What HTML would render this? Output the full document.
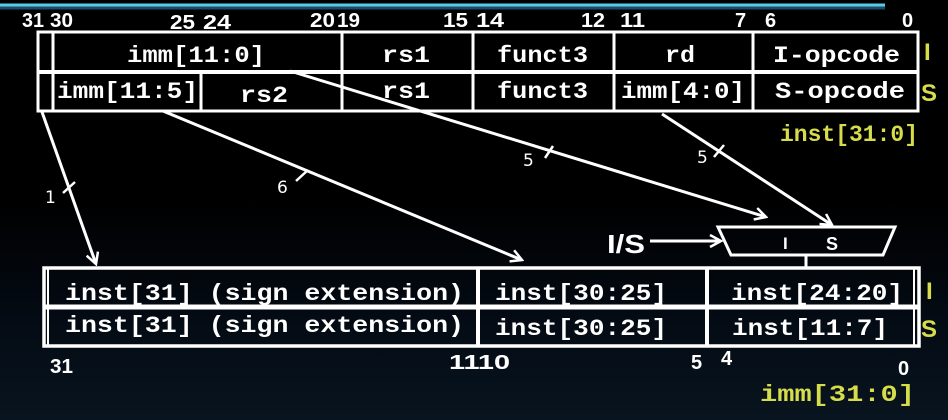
<!DOCTYPE html>
<html><head><style>
html,body{margin:0;padding:0;width:948px;height:420px;overflow:hidden}
body{background:linear-gradient(#000 0px,#000 200px,#040b14 320px,#08141f 420px)}
svg{display:block}
.m{font-family:"Liberation Mono",monospace;font-weight:bold;font-size:23px;fill:#fff}
.n{font-family:"Liberation Sans Narrow","Liberation Sans",sans-serif;font-weight:bold;font-size:20px;fill:#fff}
.y{fill:#d6dc4a}
</style></head><body>
<svg width="948" height="420" viewBox="0 0 948 420">
<defs><marker id="a" markerWidth="14" markerHeight="14" refX="12" refY="7" orient="auto" markerUnits="userSpaceOnUse"><path d="M1,1 L12,7 L1,13" fill="none" stroke="#fff" stroke-width="2.5"/></marker></defs>
<line x1="0" y1="5" x2="885" y2="5" stroke="#5ac8e8" stroke-width="3"/>
<line x1="0" y1="8" x2="885" y2="8" stroke="#1d4a66" stroke-width="3"/>
<g class="n">
<text x="22" y="27" textLength="22" lengthAdjust="spacingAndGlyphs">31</text><text x="50" y="27" textLength="23" lengthAdjust="spacingAndGlyphs">30</text>
<text x="170" y="29" textLength="25" lengthAdjust="spacingAndGlyphs">25</text><text x="203" y="29" textLength="28" lengthAdjust="spacingAndGlyphs">24</text>
<text x="310" y="27" textLength="25" lengthAdjust="spacingAndGlyphs">20</text><text x="337" y="27" textLength="23" lengthAdjust="spacingAndGlyphs">19</text>
<text x="443" y="27" textLength="25" lengthAdjust="spacingAndGlyphs">15</text><text x="476" y="27" textLength="28" lengthAdjust="spacingAndGlyphs">14</text>
<text x="581" y="27" textLength="24" lengthAdjust="spacingAndGlyphs">12</text><text x="620" y="27" textLength="25" lengthAdjust="spacingAndGlyphs">11</text>
<text x="735" y="27">7</text><text x="765" y="27">6</text><text x="902" y="27">0</text>
</g>
<g fill="none" stroke="#fff" stroke-width="3">
<rect x="38" y="32" width="880" height="79"/>
<line x1="38" y1="72" x2="918" y2="72" stroke-width="4"/>
<line x1="53" y1="32" x2="53" y2="111"/>
<line x1="342" y1="32" x2="342" y2="111"/>
<line x1="473" y1="32" x2="473" y2="111"/>
<line x1="614" y1="32" x2="614" y2="111"/>
<line x1="753" y1="32" x2="753" y2="111"/>
<line x1="201" y1="72" x2="201" y2="111"/>
</g>
<g class="m">
<text x="127" y="62" textLength="138" lengthAdjust="spacingAndGlyphs">imm[11:0]</text>
<text x="382" y="62" textLength="48" lengthAdjust="spacingAndGlyphs">rs1</text>
<text x="497" y="62" textLength="91" lengthAdjust="spacingAndGlyphs">funct3</text>
<text x="665" y="62" textLength="30" lengthAdjust="spacingAndGlyphs">rd</text>
<text x="773" y="62" textLength="127" lengthAdjust="spacingAndGlyphs">I-opcode</text>
<text x="57" y="98" textLength="141" lengthAdjust="spacingAndGlyphs">imm[11:5]</text>
<text x="240" y="102" textLength="48" lengthAdjust="spacingAndGlyphs">rs2</text>
<text x="382" y="98" textLength="48" lengthAdjust="spacingAndGlyphs">rs1</text>
<text x="497" y="98" textLength="91" lengthAdjust="spacingAndGlyphs">funct3</text>
<text x="621" y="98" textLength="124" lengthAdjust="spacingAndGlyphs">imm[4:0]</text>
<text x="775" y="98" textLength="130" lengthAdjust="spacingAndGlyphs">S-opcode</text>
<text class="m y" x="780" y="141" textLength="138" lengthAdjust="spacingAndGlyphs">inst[31:0]</text>
</g>
<text class="n y" x="924" y="60" style="font-size:24px">I</text>
<text class="n y" x="921" y="101" style="font-size:24px">S</text>
<g stroke="#fff" stroke-width="3" fill="none">
<line x1="42" y1="112" x2="96" y2="264" marker-end="url(#a)"/>
<line x1="163" y1="111" x2="522" y2="260" marker-end="url(#a)"/>
<line x1="290" y1="71" x2="766" y2="217" marker-end="url(#a)"/>
<line x1="662" y1="114" x2="832" y2="225" marker-end="url(#a)"/>
<line x1="650" y1="241" x2="721" y2="241" marker-end="url(#a)"/>
<line x1="63" y1="193" x2="75" y2="182" stroke-width="2.5"/>
<line x1="296" y1="181" x2="308" y2="170" stroke-width="2.5"/>
<line x1="545" y1="158" x2="553" y2="146" stroke-width="2.5"/>
<line x1="714" y1="157" x2="724" y2="145" stroke-width="2.5"/>
<polygon points="718,227 895,227 883,255 731,255"/>
<line x1="806" y1="255" x2="806" y2="267"/>
</g>
<g class="n" style="font-weight:normal;font-family:'DejaVu Sans',sans-serif;font-size:17px">
<text x="45" y="203">1</text><text x="277" y="193">6</text><text x="523" y="166">5</text><text x="697" y="163">5</text>
</g>
<text class="n" x="783" y="249" style="font-size:17px">I</text>
<text class="n" x="826" y="250" style="font-size:18px">S</text>
<text x="607" y="253" class="n" style="font-size:26px" textLength="38" lengthAdjust="spacingAndGlyphs">I/S</text>
<g fill="none" stroke="#fff" stroke-width="3">
<rect x="44" y="268" width="875" height="78" stroke-width="3.5"/>
<line x1="44" y1="307" x2="919" y2="307" stroke-width="5"/>
<line x1="478" y1="268" x2="478" y2="346" stroke-width="4"/>
<line x1="707" y1="268" x2="707" y2="346" stroke-width="4"/>
<line x1="914" y1="268" x2="914" y2="346" stroke-width="2"/>
<line x1="48" y1="268" x2="48" y2="346" stroke-width="2"/>
</g>
<g class="m">
<text x="65" y="300" textLength="399" lengthAdjust="spacingAndGlyphs">inst[31] (sign extension)</text>
<text x="495" y="300" textLength="172" lengthAdjust="spacingAndGlyphs">inst[30:25]</text>
<text x="731" y="300" textLength="172" lengthAdjust="spacingAndGlyphs">inst[24:20]</text>
<text x="65" y="332" textLength="399" lengthAdjust="spacingAndGlyphs">inst[31] (sign extension)</text>
<text x="495" y="335" textLength="172" lengthAdjust="spacingAndGlyphs">inst[30:25]</text>
<text x="732" y="335" textLength="156" lengthAdjust="spacingAndGlyphs">inst[11:7]</text>
<text class="m y" x="760" y="401" textLength="155" lengthAdjust="spacingAndGlyphs">imm[31:0]</text>
</g>
<text class="n y" x="926" y="299" style="font-size:24px">I</text>
<text class="n y" x="921" y="337" style="font-size:24px">S</text>
<g class="n">
<text x="50" y="373" textLength="23" lengthAdjust="spacingAndGlyphs">31</text>
<text x="449" y="369" textLength="61" lengthAdjust="spacingAndGlyphs">1110</text>
<text x="691" y="369">5</text><text x="721" y="365">4</text><text x="898" y="375">0</text>
</g>
</svg>
</body></html>
